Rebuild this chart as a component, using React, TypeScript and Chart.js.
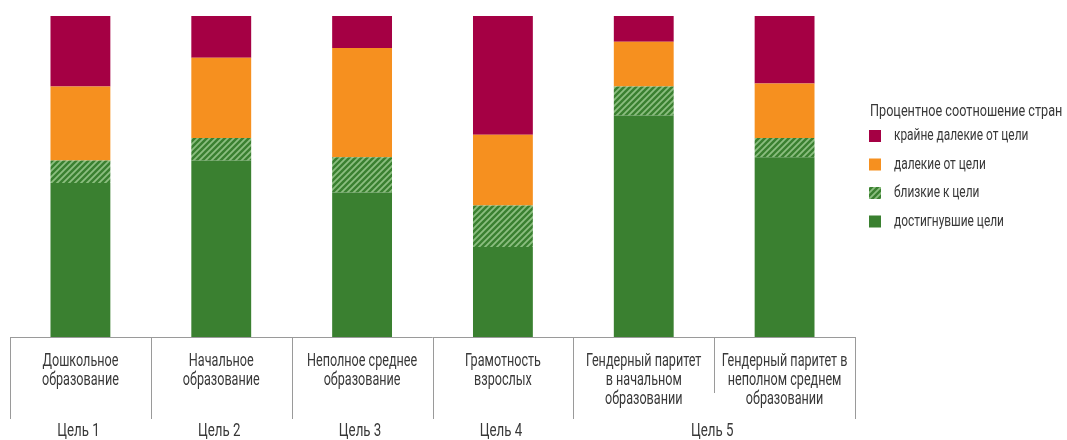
import React, { useEffect, useRef } from "react";
import { Chart, registerables } from "chart.js";

Chart.register(...registerables);

// ---- Data ----
const categories: string[][] = [
  ["Дошкольное", "образование"],
  ["Начальное", "образование"],
  ["Неполное среднее", "образование"],
  ["Грамотность", "взрослых"],
  ["Гендерный паритет", "в начальном", "образовании"],
  ["Гендерный паритет в", "неполном среднем", "образовании"],
];
const goalLabels = ["Цель 1", "Цель 2", "Цель 3", "Цель 4", "Цель 5"];
const goalFirstCategory = [0, 1, 2, 3, 4];
const goalLastCategory = [0, 1, 2, 3, 5];

const achieved = [48, 55, 45, 28, 69, 56];
const closeTo = [7, 7, 11, 13, 9, 6];
const far = [23, 25, 34, 22, 14, 17];
const veryFar = [22, 13, 10, 37, 8, 21];

const seriesLabels = ["достигнувшие цели", "близкие к цели", "далекие от цели", "крайне далекие от цели"];
const legendTitle = "Процентное соотношение стран";

// ---- Styles ----
const GREEN = "#3a8030";
const STRIPE = "#8cbe80";
const ORANGE = "#f6901f";
const CRIMSON = "#a50044";
const TEXT = "#383838";
const LINE = "#9a9a9a";
const FONT = "Roboto, sans-serif";

function makeHatch(): CanvasPattern | string {
  const c = document.createElement("canvas");
  c.width = 6;
  c.height = 6;
  const g = c.getContext("2d");
  if (!g) return GREEN;
  g.fillStyle = GREEN;
  g.fillRect(0, 0, 6, 6);
  g.strokeStyle = STRIPE;
  g.lineWidth = 1.8;
  g.beginPath();
  g.moveTo(-1, 7);
  g.lineTo(7, -1);
  g.moveTo(-1, 1);
  g.lineTo(1, -1);
  g.moveTo(5, 7);
  g.lineTo(7, 5);
  g.stroke();
  return g.createPattern(c, "repeat") || GREEN;
}

function drawText(
  ctx: CanvasRenderingContext2D,
  text: string,
  x: number,
  y: number,
  size: number,
  sx: number,
  align: CanvasTextAlign
) {
  ctx.save();
  ctx.translate(x, y);
  ctx.scale(sx, 1);
  ctx.font = `${size}px ${FONT}`;
  ctx.textAlign = align;
  ctx.textBaseline = "middle";
  ctx.fillText(text, 0, 0);
  ctx.restore();
}

const decorPlugin = {
  id: "decor",
  afterDraw(chart: any) {
    const ctx: CanvasRenderingContext2D = chart.ctx;
    const area = chart.chartArea;
    const xs = chart.scales.x;
    const n = categories.length;
    const step = (area.right - area.left) / n;
    const bottom = area.bottom;
    ctx.save();
    ctx.strokeStyle = LINE;
    ctx.lineWidth = 1;
    ctx.beginPath();
    ctx.moveTo(area.left, bottom + 0.5);
    ctx.lineTo(area.right, bottom + 0.5);
    for (let i = 0; i <= n; i++) {
      const x = Math.round(area.left + i * step) + 0.5;
      const inGroup = goalFirstCategory.some((f, gi) => i > f && i <= goalLastCategory[gi]);
      ctx.moveTo(x, bottom);
      ctx.lineTo(x, inGroup ? bottom + 56 : bottom + 82);
    }
    ctx.stroke();

    ctx.fillStyle = TEXT;
    categories.forEach((lines, i) => {
      const cx = xs.getPixelForValue(i);
      lines.forEach((t, k) => {
        drawText(ctx, t, cx, bottom + 24 + k * 19, 18, 0.7, "center");
      });
    });
    goalLabels.forEach((t, gi) => {
      const a = xs.getPixelForValue(goalFirstCategory[gi]);
      const b = xs.getPixelForValue(goalLastCategory[gi]);
      drawText(ctx, t, (a + b) / 2 - 2, bottom + 94, 19, 0.7, "center");
    });

    const lx = 869;
    drawText(ctx, legendTitle, lx + 1, 112, 17, 0.745, "left");
    const ds = chart.data.datasets;
    for (let j = ds.length - 1, row = 0; j >= 0; j--, row++) {
      const y = 136 + row * 28.5;
      ctx.fillStyle = ds[j].backgroundColor;
      ctx.fillRect(lx, y - 6, 12, 12);
      ctx.fillStyle = TEXT;
      drawText(ctx, ds[j].label, lx + 25, y, 17, 0.7, "left");
    }
    ctx.restore();
  },
};

export default function App() {
  const ref = useRef<HTMLCanvasElement | null>(null);
  useEffect(() => {
    document.body.style.margin = "0";
    document.body.style.overflow = "hidden";
    if (!ref.current) return;
    const hatch = makeHatch();
    const chart = new Chart(ref.current, {
      type: "bar",
      data: {
        labels: categories.map((c) => c.join(" ")),
        datasets: [
          { label: seriesLabels[0], data: achieved, backgroundColor: GREEN },
          { label: seriesLabels[1], data: closeTo, backgroundColor: hatch as any },
          { label: seriesLabels[2], data: far, backgroundColor: ORANGE },
          { label: seriesLabels[3], data: veryFar, backgroundColor: CRIMSON },
        ],
      },
      options: {
        responsive: false,
        animation: false,
        layout: { padding: { left: 10, right: 212, top: 16, bottom: 103 } },
        datasets: { bar: { categoryPercentage: 0.425, barPercentage: 1, borderWidth: 0 } },
        scales: {
          x: { display: false, stacked: true },
          y: { display: false, stacked: true, min: 0, max: 100 },
        },
        plugins: {
          legend: { display: false },
          tooltip: { enabled: false },
        },
      },
      plugins: [decorPlugin],
    });
    return () => chart.destroy();
  }, []);
  return (
    <div style={{ width: 1067, height: 440 }}>
      <canvas ref={ref} width={1067} height={440} style={{ display: "block" }} />
    </div>
  );
}
